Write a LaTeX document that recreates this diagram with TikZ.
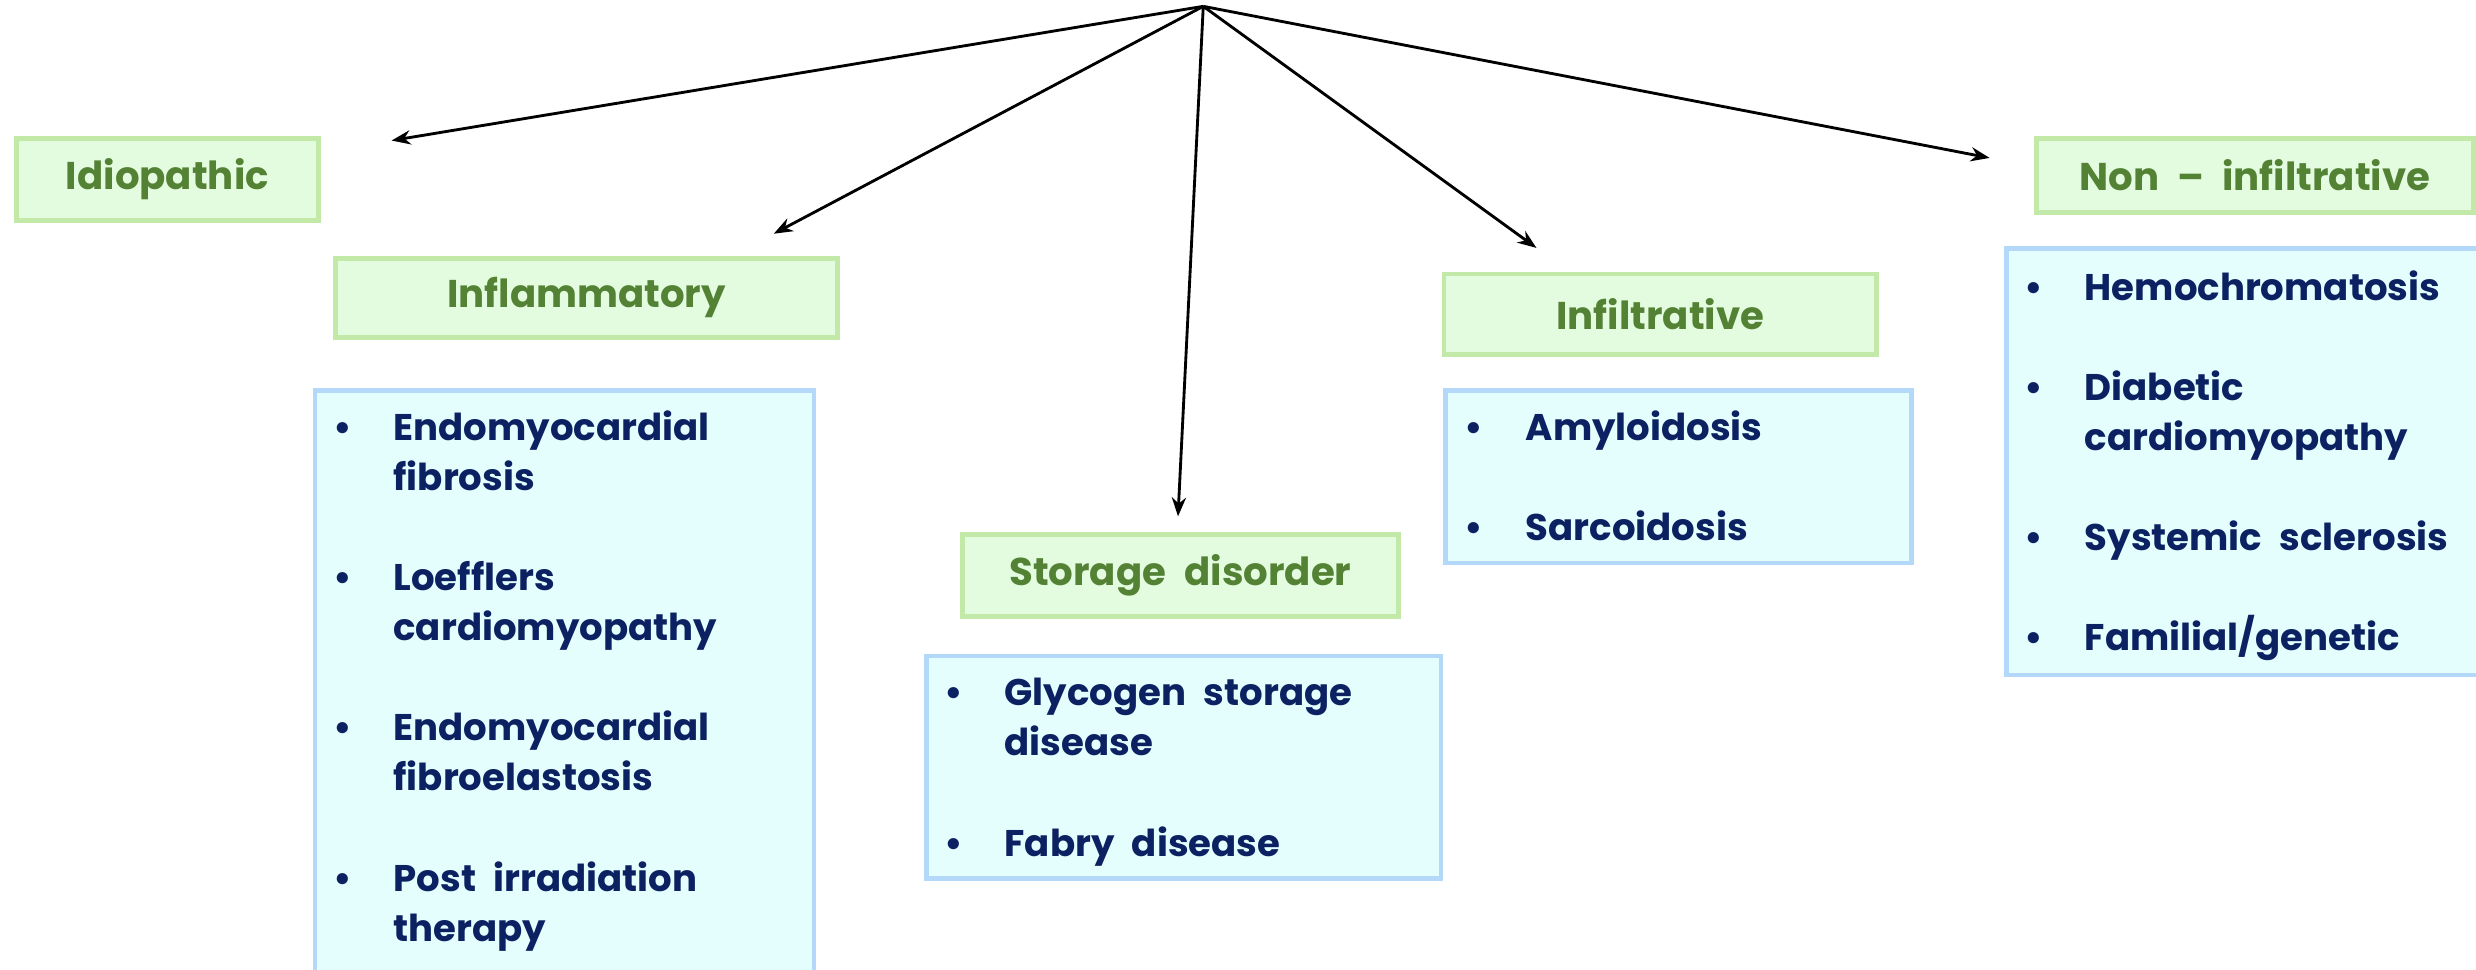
\documentclass[tikz,border=0pt]{standalone}
\usepackage{fontspec}
\setmainfont{Poppins}[WordSpace=2.2]
\usetikzlibrary{arrows.meta}
\definecolor{gfill}{HTML}{E3FCE0}
\definecolor{gline}{HTML}{C3E9A9}
\definecolor{gtext}{HTML}{548235}
\definecolor{bfill}{HTML}{E4FDFD}
\definecolor{bline}{HTML}{B3D8F9}
\definecolor{btext}{HTML}{0B2161}
\begin{document}
\begin{tikzpicture}[x=1pt,y=-1pt,
  gbox/.style={draw=gline, fill=gfill, line width=3pt, inner sep=0pt, anchor=north west,
    text=gtext, font=\fontsize{24.5}{28}\selectfont\bfseries},
  bbox/.style={draw=bline, fill=bfill, line width=3pt, inner sep=0pt, anchor=north west},
  blist/.style={inner sep=0pt, anchor=base west, text=btext, align=left,
    font=\fontsize{23.5}{31.7}\selectfont\bfseries},
  arr/.style={line width=1.8pt, -{Stealth[length=12pt,width=9pt]}}
]
\useasboundingbox (0,0) rectangle (1568,614);
\fill[white] (0,0) rectangle (1568,614);

% green category boxes
\node[gbox, minimum width=191pt, minimum height=52pt] (idio) at (9,86) {Idiopathic};
\node[gbox, minimum width=318pt, minimum height=50pt] (infl) at (211,162) {Inflammatory};
\node[gbox, minimum width=276pt, minimum height=52pt] (stor) at (608,337) {Storage disorder};
\node[gbox, minimum width=274pt, minimum height=51pt] (infi) at (913,172) {Infiltrative};
\node[gbox, minimum width=277pt, minimum height=47pt] (noni) at (1288,86) {Non – infiltrative};

% blue list boxes
\node[bbox, minimum width=316pt, minimum height=390pt] (inflbox) at (198,246) {};
\node[bbox, minimum width=326pt, minimum height=141pt] (storbox) at (585,414) {};
\node[bbox, minimum width=295pt, minimum height=109pt] (infibox) at (914,246) {};
\node[bbox, minimum width=320pt, minimum height=270pt] (nonibox) at (1269,156) {};

\node[blist] (infllist) at (211,279) {\begin{tabular}[t]{@{}p{38pt}@{}l@{}}
•& Endomyocardial\\ & fibrosis\\ & \\
•& Loefflers\\ & cardiomyopathy\\ & \\
•& Endomyocardial\\ & fibroelastosis\\ & \\
•& Post irradiation\\ & therapy
\end{tabular}};
\node[blist] (storlist) at (598,447) {\begin{tabular}[t]{@{}p{38pt}@{}l@{}}
•& Glycogen storage\\ & disease\\ & \\
•& Fabry disease
\end{tabular}};
\node[blist] (infilist) at (927,279) {\begin{tabular}[t]{@{}p{39pt}@{}l@{}}
•& Amyloidosis\\ & \\
•& Sarcoidosis
\end{tabular}};
\node[blist] (nonilist) at (1282,190) {\begin{tabular}[t]{@{}p{38pt}@{}l@{}}
•& Hemochromatosis\\ & \\
•& Diabetic\\ & cardiomyopathy\\ & \\
•& Systemic sclerosis\\ & \\
•& Familial/genetic
\end{tabular}};

% connectors
\coordinate (apex) at (762,4);
\coordinate (e1) at (248,89);
\coordinate (e2) at (490,148);
\coordinate (e3) at (746,327);
\coordinate (e4) at (973,157);
\coordinate (e5) at (1260,100);
\draw[arr] (apex) -- (e1);
\draw[arr] (apex) -- (e2);
\draw[arr] (apex) -- (e3);
\draw[arr] (apex) -- (e4);
\draw[arr] (apex) -- (e5);
\end{tikzpicture}
\end{document}
